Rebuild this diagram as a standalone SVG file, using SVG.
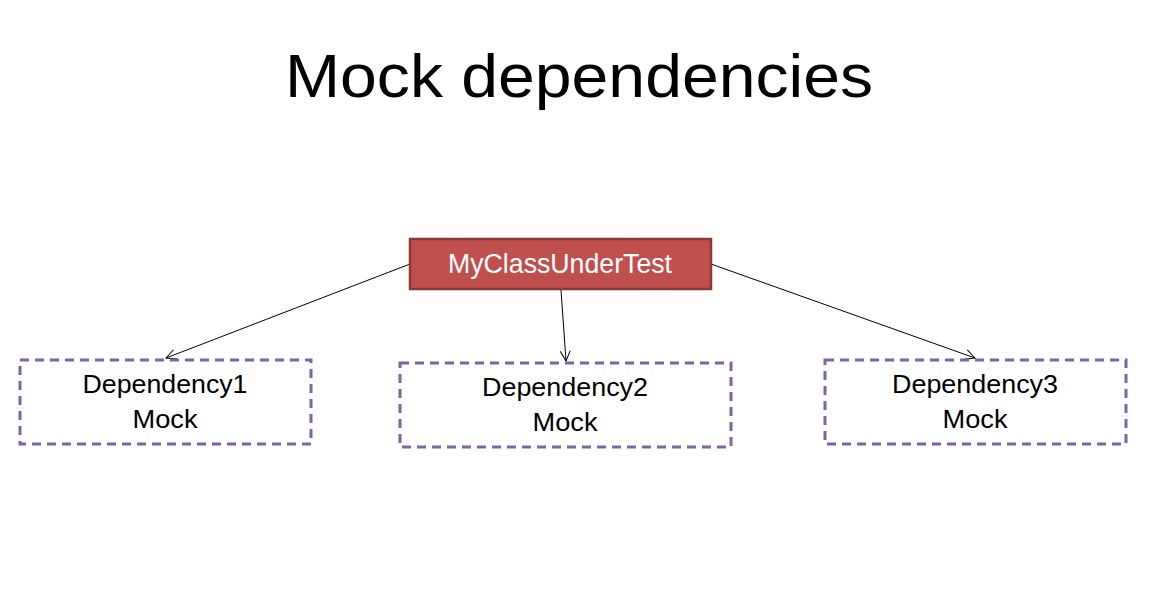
<svg xmlns="http://www.w3.org/2000/svg" width="1151" height="591" viewBox="0 0 1151 591">
<style>
.title{font-family:"Liberation Sans",Arial,sans-serif;font-size:61px;fill:#000}
.lbl{font-family:"Liberation Sans",Arial,sans-serif;font-size:25px;fill:#000;text-anchor:middle}
.main{font-family:"Liberation Sans",Arial,sans-serif;font-size:27px;fill:#fff;text-anchor:middle}
.dep{fill:#fff;stroke:#8064A2;stroke-width:3;stroke-dasharray:9 6}
.conn{stroke:#000;stroke-width:1;fill:none;marker-end:url(#arr)}
</style>
<defs>
<marker id="arr" viewBox="0 0 12 12" refX="11" refY="6" markerWidth="12" markerHeight="12" markerUnits="userSpaceOnUse" orient="auto">
<path d="M1,1 L11,6 L1,11" fill="none" stroke="#000" stroke-width="1"/>
</marker>
</defs>
<rect width="1151" height="591" fill="#fff"/>
<text class="title" x="285" y="97" textLength="588" lengthAdjust="spacingAndGlyphs">Mock dependencies</text>
<g id="connectors">
<line class="conn" x1="410" y1="264" x2="166" y2="358"/>
<line class="conn" x1="561" y1="290" x2="566" y2="361"/>
<line class="conn" x1="711" y1="264" x2="975" y2="358"/>
</g>
<g id="myclass">
<rect x="410" y="239" width="301" height="50" fill="#C0504D" stroke="#8C3836" stroke-width="2.5"/>
<text class="main" x="560" y="273" textLength="224" lengthAdjust="spacingAndGlyphs">MyClassUnderTest</text>
</g>
<g id="dep1">
<rect class="dep" x="20" y="360" width="291" height="84"/>
<text class="lbl" x="165" y="393" textLength="165" lengthAdjust="spacingAndGlyphs">Dependency1</text>
<text class="lbl" x="165" y="428" textLength="65" lengthAdjust="spacingAndGlyphs">Mock</text>
</g>
<g id="dep2">
<rect class="dep" x="400" y="363" width="331" height="84"/>
<text class="lbl" x="565" y="396" textLength="166" lengthAdjust="spacingAndGlyphs">Dependency2</text>
<text class="lbl" x="565" y="431" textLength="65" lengthAdjust="spacingAndGlyphs">Mock</text>
</g>
<g id="dep3">
<rect class="dep" x="825" y="360" width="301" height="84"/>
<text class="lbl" x="975" y="393" textLength="166" lengthAdjust="spacingAndGlyphs">Dependency3</text>
<text class="lbl" x="975" y="428" textLength="65" lengthAdjust="spacingAndGlyphs">Mock</text>
</g>
</svg>
